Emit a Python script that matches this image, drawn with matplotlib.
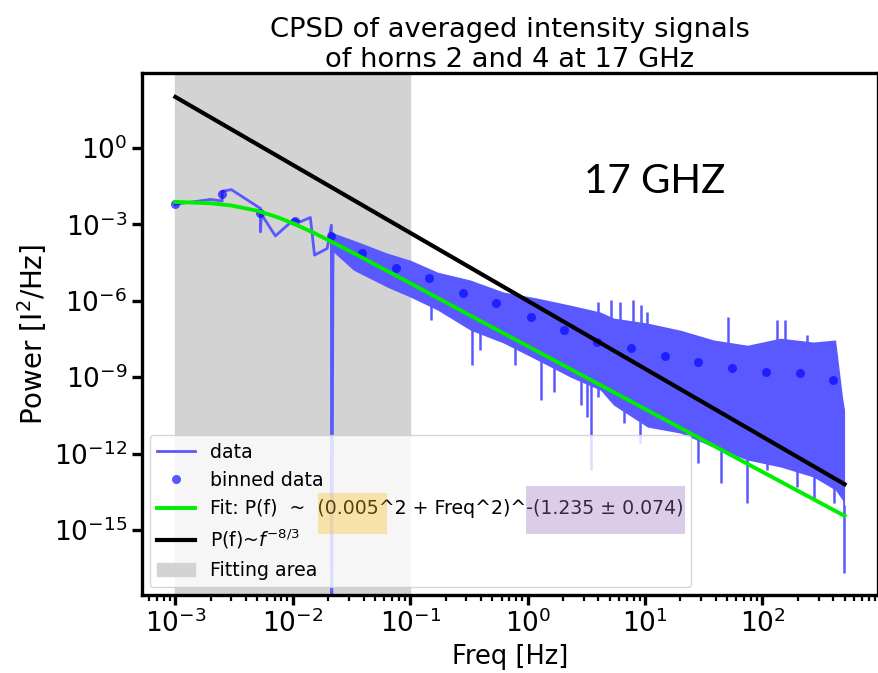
import matplotlib
matplotlib.use("Agg")
import matplotlib.pyplot as plt
from matplotlib.patches import Rectangle
from matplotlib.ticker import LogLocator, NullLocator

# sparse low-frequency part of the CPSD (Hz, I^2/Hz)
low_f = [0.001, 0.002, 0.0025, 0.0025, 0.003, 0.0053, 0.0053, 0.0054, 0.0071,
         0.0102, 0.0116, 0.0141, 0.0153, 0.0196, 0.0213, 0.0214, 0.0220]
low_p = [6.2e-3, 9.5e-3, 8.3e-3, 2.0e-2, 2.3e-2, 4.2e-3, 5.1e-4, 2.5e-3, 3.5e-4,
         1.55e-3, 1.26e-3, 1.86e-3, 6.2e-5, 1.12e-4, 9.3e-4, 1e-20, 2.4e-4]

# dense part: upper / lower edge of the noisy spectrum
band_f = [0.0213, 0.0328, 0.0639, 0.1005, 0.171, 0.326, 0.622, 1.21, 2.32, 4.17,
          5.38, 10.5, 20.0, 38.3, 74.5, 142, 272, 419, 480, 500]
band_hi = [4.9e-4, 2.4e-4, 7.4e-5, 3.9e-5, 1.33e-5, 6.5e-6, 2.2e-6, 1.27e-6, 6.7e-7, 3.6e-7,
           2.1e-7, 1.33e-7, 7.0e-8, 2.9e-8, 1.8e-8, 3.4e-8, 2.4e-8, 2.9e-8, 1.66e-10, 5.1e-11]
band_lo = [9.7e-5, 1.6e-5, 3.4e-6, 1.39e-6, 4.3e-7, 7.0e-8, 2.2e-8, 4.7e-9, 1.0e-9, 3.1e-10,
           8.1e-11, 1.1e-11, 6.4e-12, 1.8e-12, 5.6e-13, 3.0e-13, 1.2e-13, 3.7e-14, 1.5e-14, 1e-15]

# single spikes sticking out of the band
spike_f = [0.0377, 0.0748, 0.149, 0.336, 0.396, 0.787, 1.29, 1.66, 2.82, 3.94, 3.21, 3.43,
           6.55, 9.14, 13.5, 28.5, 43.9, 74.1, 110, 198, 272, 403, 495,
           4.01, 5.14, 6.06, 7.96, 9.31, 10.4, 51.2, 133, 154, 240]
spike_lo = [1.3e-5, 2.6e-6, 1.7e-7, 3.0e-9, 1.15e-8, 3.0e-9, 1.26e-10, 2.6e-10, 8.1e-11,
            1.66e-10, 2.8e-11, 2.3e-13, 1.6e-11, 2.6e-12, 1.6e-11, 4.3e-13, 7.1e-14, 1.15e-14,
            2.3e-13, 4.9e-14, 1.5e-14, 1.15e-14, 2.0e-17,
            1e-7, 1e-7, 1e-7, 1e-7, 1e-7, 1e-7, 1e-8, 1e-8, 1e-8, 1e-8]
spike_hi = [5e-5, 1e-5, 1e-6, 2e-7, 1e-7, 5e-8, 1e-8, 5e-9, 2e-9, 1e-9, 1e-9, 1e-9,
            3e-10, 1e-10, 5e-11, 1e-11, 5e-12, 2e-12, 1e-12, 5e-13, 5e-13, 2e-13, 1e-14,
            9.1e-7, 1.12e-6, 9.1e-7, 1.05e-6, 6.7e-7, 3.7e-7, 2.3e-7, 1.7e-7, 1.7e-7, 4.5e-8]

# log-binned data
bin_f = [0.001, 0.0025, 0.0053, 0.0105, 0.0212, 0.0389, 0.0762, 0.145, 0.279, 0.540,
         1.06, 2.03, 3.91, 7.66, 14.7, 28.5, 55.2, 107, 207, 400]
bin_p = [6.2e-3, 1.6e-2, 2.7e-3, 1.4e-3, 3.5e-4, 7.6e-5, 1.95e-5, 7.6e-6, 2.1e-6, 8.3e-7,
         2.3e-7, 7.1e-8, 2.5e-8, 1.35e-8, 6.9e-9, 3.8e-9, 2.3e-9, 1.55e-9, 1.45e-9, 7.8e-10]

# fitted model
fit_f = [0.001, 0.002, 0.003, 0.005, 0.0075, 0.01, 0.015, 0.022, 0.035, 0.06, 0.1, 0.3, 1, 500]
fit_p = [7.6e-3, 6.7e-3, 5.5e-3, 3.4e-3, 1.87e-3, 1.1e-3, 4.7e-4, 1.94e-4, 6.4e-5,
         1.71e-5, 4.9e-6, 3.2e-7, 1.66e-8, 3.6e-15]

# Kolmogorov reference slope
kol_f = [0.001, 500]
kol_p = [100, 6.3e-14]

fit_area = (1e-3, 1e-1)
x_ticks = [1e-3, 1e-2, 1e-1, 1e0, 1e1, 1e2]
y_ticks = [1e0, 1e-3, 1e-6, 1e-9, 1e-12, 1e-15]

data_color = "#5959ff"

fig = plt.figure(figsize=(8.79, 6.73), dpi=100)
ax = fig.add_axes([0.1615, 0.1159, 0.8374, 0.7752])

ax.axvspan(fit_area[0], fit_area[1], color="lightgray", label="Fitting area", zorder=0)

ax.plot(low_f, low_p, color=data_color, lw=2, label="data", zorder=2)
ax.fill_between(band_f, band_lo, band_hi, color=data_color, lw=0, zorder=2)
ax.vlines(spike_f, spike_lo, spike_hi, color=data_color, lw=1.8, zorder=2)

ax.plot(bin_f, bin_p, "o", color="blue", alpha=0.65, ms=6.5, mew=0,
        label="binned data", zorder=3)
ax.plot(fit_f, fit_p, color="#00ee00", lw=2.8,
        label="Fit: P(f)  ~  (0.005^2 + Freq^2)^-(1.235 \u00b1 0.074)", zorder=4)
ax.plot(kol_f, kol_p, color="black", lw=3, label=r"P(f)~$f^{-8/3}$", zorder=4)

ax.set_xscale("log")
ax.set_yscale("log")
ax.set_xlim(10 ** -3.285, 10 ** 2.984)
ax.set_ylim(10 ** -17.55, 10 ** 2.93)
ax.set_xticks(x_ticks)
ax.set_yticks(y_ticks)
ax.xaxis.set_minor_locator(LogLocator(base=10, subs=range(2, 10), numticks=20))
ax.yaxis.set_minor_locator(NullLocator())

for s in ax.spines.values():
    s.set_linewidth(2.4)
ax.tick_params(which="major", labelsize=19, length=7, width=2.4)
ax.tick_params(which="minor", length=4, width=1.6)

ax.set_xlabel("Freq [Hz]", fontsize=18.5)
ax.set_ylabel(r"Power [I$^2$/Hz]", fontsize=20)
ax.set_title("CPSD of averaged intensity signals\nof horns 2 and 4 at 17 GHz",
             fontsize=19.7, pad=4)

handles, labels = ax.get_legend_handles_labels()
order = [labels.index("data"), labels.index("binned data"),
         [i for i, l in enumerate(labels) if l.startswith("Fit:")][0],
         [i for i, l in enumerate(labels) if l.startswith("P(f)")][0],
         labels.index("Fitting area")]
ax.legend([handles[i] for i in order], [labels[i] for i in order],
          loc="lower left", fontsize=13.6, framealpha=0.8, borderaxespad=0.4)

fig.text(0.745, 0.731, "17 GHZ", fontsize=29, family="Lato", ha="center", va="center")

# highlight boxes drawn over the legend label
fig.add_artist(Rectangle((318 / 879, 1 - 534 / 673), 69 / 879, 41 / 673,
                         transform=fig.transFigure, color="#f9bd1d", alpha=0.35, lw=0, zorder=10))
fig.add_artist(Rectangle((526 / 879, 1 - 534 / 673), 159 / 879, 48 / 673,
                         transform=fig.transFigure, color="#9a72bd", alpha=0.35, lw=0, zorder=10))

fig.savefig("out.png", dpi=100)
